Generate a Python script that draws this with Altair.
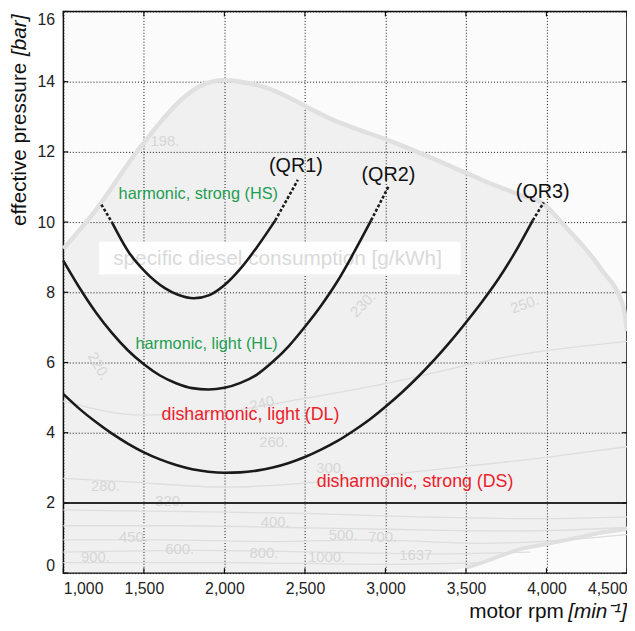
import altair as alt
import pandas as pd

FONT = "Liberation Sans"

# ---------------- data ----------------
x_ticks = [1000, 1500, 2000, 2500, 3000, 3500, 4000, 4500]
y_ticks = [0, 2, 4, 6, 8, 10, 12, 14, 16]

# Quality-regime curves (rpm, bar); solid part between indices given
qr1_rpm = [1236, 1301, 1405, 1507, 1630, 1712, 1810, 1907, 1999, 2101, 2204, 2316, 2456]
qr1_p = [10.5, 10.0, 9.15, 8.59, 8.12, 7.93, 7.83, 7.92, 8.2, 8.68, 9.3, 10.05, 11.2]
qr1_solid = (1, 11)

qr2_rpm = [1000, 1100, 1200, 1300, 1400, 1500, 1600, 1700, 1800, 1900, 2000, 2100,
           2200, 2300, 2400, 2500, 2600, 2700, 2800, 2911, 3023]
qr2_p = [8.9, 8.13, 7.44, 6.85, 6.35, 5.95, 5.63, 5.41, 5.27, 5.23, 5.28, 5.42,
         5.65, 6.02, 6.47, 7.02, 7.62, 8.3, 9.1, 10.05, 11.05]
qr2_solid = (0, 19)

qr3_rpm = [1000, 1100, 1200, 1300, 1400, 1500, 1600, 1700, 1800, 1900, 2000, 2100,
           2200, 2300, 2400, 2500, 2600, 2700, 2800, 2900, 3000, 3100, 3200, 3300,
           3400, 3500, 3600, 3700, 3800, 3915, 3983]
qr3_p = [5.1, 4.68, 4.31, 3.98, 3.69, 3.44, 3.24, 3.08, 2.96, 2.89, 2.86, 2.87,
         2.92, 3.01, 3.14, 3.31, 3.52, 3.76, 4.05, 4.37, 4.74, 5.14, 5.58, 6.06,
         6.58, 7.14, 7.73, 8.37, 9.1, 10.05, 10.56]
qr3_solid = (0, 29)

ds_limit = 2.0  # horizontal boundary (bar)

# annotation labels
lab_text = ["(QR1)", "(QR2)", "(QR3)", "harmonic, strong (HS)", "harmonic, light (HL)",
            "disharmonic, light (DL)", "disharmonic, strong (DS)"]
lab_rpm = [2444, 3018, 3977, 1838, 1889, 2162, 3184]
lab_p = [11.6, 11.33, 10.85, 10.8, 6.54, 4.5, 2.6]
lab_col = ["#111111", "#111111", "#111111", "#1e9e50", "#1e9e50", "#ec1c2a", "#ec1c2a"]
lab_size = [20, 20, 20, 16.5, 16.5, 18, 18]

# faded background map (specific diesel consumption)
map_rpm = [1000, 1177, 1484, 1753, 1850, 1999, 2204, 2696, 3064, 3300, 3495, 3600,
           3850, 3967, 4129, 4336, 4479, 4500]
map_top = [9.24, 10.2, 12.17, 13.57, 13.88, 14.04, 13.9, 12.87, 12.25, 11.8, 11.41, 11.2,
           10.75, 10.56, 9.81, 8.68, 7.56, 6.9]
map_bottom = [0, 0, 0, 0, 0, 0, 0, 0, 0, 0, 0.15, 0.3, 0.7, 0.8, 0.95, 1.15, 1.25, 1.27]

ctr_text = ["198.", "220.", "230.", "250.", "240.", "260.", "280.", "300.", "320.", "400.",
            "450.", "500.", "600.", "700.", "800.", "900.", "1000.", "1637"]
ctr_rpm = [1630, 1220, 2860, 3864, 2246, 2306, 1261, 2660, 1660, 2316, 1435, 2737, 1722,
           2983, 2245, 1199, 2634, 3188]
ctr_p = [12.3, 5.9, 7.66, 7.66, 4.85, 3.72, 2.49, 3.0, 2.06, 1.46, 1.03, 1.08, 0.70,
         1.03, 0.56, 0.47, 0.47, 0.52]
ctr_angle = [0, 60, 315, 340, 345, 0, 0, 0, 0, 0, 0, 0, 0, 0, 0, 0, 0, 0]

iso_lines = {
    "a": ([1000, 1500, 2000, 2400, 3000, 3800, 4500], [4.9, 4.5, 4.6, 4.9, 5.4, 6.2, 6.6]),
    "b": ([1000, 1400, 2000, 2600, 3200, 4000, 4500], [2.7, 2.6, 2.45, 2.6, 2.9, 3.3, 3.6]),
    "c": ([1000, 1800, 2500, 3200, 4000, 4500], [1.8, 1.75, 1.7, 1.6, 1.55, 1.6]),
    "d": ([1000, 1700, 2400, 3000, 3800, 4500], [1.35, 1.35, 1.3, 1.25, 1.2, 1.3]),
    "e": ([1000, 1600, 2300, 2900, 3600, 4500], [0.95, 0.95, 0.9, 0.95, 0.85, 1.1]),
    "f": ([1000, 1800, 2600, 3300, 3900], [0.6, 0.65, 0.6, 0.55, 0.6]),
    "g": ([1000, 2000, 3000, 3600], [0.3, 0.3, 0.25, 0.3]),
}

map_title = "specific diesel consumption [g/kWh]"
map_title_pos = (2330, 8.96)
map_box = (1220, 3466, 8.51, 9.44)

# ---------------- tables ----------------
rows = []
for name, rpm, p, (i0, i1) in [("QR1", qr1_rpm, qr1_p, qr1_solid),
                               ("QR2", qr2_rpm, qr2_p, qr2_solid),
                               ("QR3", qr3_rpm, qr3_p, qr3_solid)]:
    for i in range(i0, i1 + 1):
        rows.append({"seg": name + "s", "kind": "solid", "rpm": rpm[i], "p": p[i]})
    if i0 > 0:
        for i in range(0, i0 + 1):
            rows.append({"seg": name + "a", "kind": "dot", "rpm": rpm[i], "p": p[i]})
    if i1 < len(rpm) - 1:
        for i in range(i1, len(rpm)):
            rows.append({"seg": name + "b", "kind": "dot", "rpm": rpm[i], "p": p[i]})
curves = pd.DataFrame(rows)

labels = pd.DataFrame({"t": lab_text, "rpm": lab_rpm, "p": lab_p, "c": lab_col, "s": lab_size})
mapdf = pd.DataFrame({"rpm": map_rpm, "top": map_top, "bot": map_bottom})
ctr = pd.DataFrame({"t": ctr_text, "rpm": ctr_rpm, "p": ctr_p, "a": ctr_angle})
iso = pd.DataFrame([{"k": k, "rpm": r, "p": v} for k, (rr, vv) in iso_lines.items()
                    for r, v in zip(rr, vv)])

W, H = 570, 568
xs = alt.Scale(domain=[1000, 4500], nice=False, zero=False)
ys = alt.Scale(domain=[0, 16], nice=False)

x_axis = alt.Axis(values=x_ticks, labelExpr="format(datum.value, ',')", grid=True,
                  gridDash=[1, 2], gridColor="#111111", gridWidth=1, ticks=False,
                  domain=False, labelFontSize=16, labelFont=FONT, labelColor="#222222",
                  labelPadding=8, labelFlush=True, title=None)
y_axis = alt.Axis(values=y_ticks, labelExpr="format(datum.value, 'd')", grid=True,
                  gridDash=[1, 2], gridColor="#111111", gridWidth=1, ticks=False,
                  domain=False, labelFontSize=16, labelFont=FONT, labelColor="#222222",
                  labelPadding=9, labelFlush=True, title=None)


def X(f="rpm"):
    return alt.X(f"{f}:Q", scale=xs, axis=x_axis, title=None)


def Y(f="p"):
    return alt.Y(f"{f}:Q", scale=ys, axis=y_axis, title=None)


bg = alt.Chart(mapdf).mark_area(color="#000000", opacity=0.045, interpolate="monotone").encode(
    x=X(), y=Y("top"), y2="bot:Q")
outline_top = alt.Chart(mapdf).mark_line(color="#e0e0e0", strokeWidth=4.5,
                                         interpolate="monotone").encode(x=X(), y=Y("top"))
outline_bot = alt.Chart(mapdf[mapdf["bot"] > 0]).mark_line(
    color="#e0e0e0", strokeWidth=4, interpolate="monotone").encode(x=X(), y=Y("bot"))
iso_l = alt.Chart(iso).mark_line(color="#dedede", strokeWidth=1.3, interpolate="monotone").encode(
    x=X(), y=Y(), detail="k:N")
ctr_t = alt.Chart(ctr).mark_text(font=FONT, fontSize=15, color="#d6d6d6").encode(
    x=X(), y=Y(), text="t:N", angle=alt.Angle("a:Q", scale=None))

box = alt.Chart(pd.DataFrame({"x1": [map_box[0]], "x2": [map_box[1]],
                              "y1": [map_box[2]], "y2": [map_box[3]]})).mark_rect(
    color="#ffffff", opacity=0.92).encode(x=X("x1"), x2="x2:Q", y=Y("y1"), y2="y2:Q")
box_t = alt.Chart(pd.DataFrame({"t": [map_title], "rpm": [map_title_pos[0]],
                                "p": [map_title_pos[1]]})).mark_text(
    font=FONT, fontSize=21, color="#dadada").encode(x=X(), y=Y(), text="t:N")

ds_rule = alt.Chart(pd.DataFrame({"p": [ds_limit]})).mark_rule(
    color="#2a2a2a", strokeWidth=2).encode(y=Y())

solid = alt.Chart(curves[curves["kind"] == "solid"]).mark_line(
    color="#1a1a1a", strokeWidth=2.6, interpolate="monotone").encode(
    x=X(), y=Y(), detail="seg:N", order="rpm:Q")
dotted = alt.Chart(curves[curves["kind"] == "dot"]).mark_line(
    color="#1a1a1a", strokeWidth=2.6, strokeDash=[3, 2]).encode(
    x=X(), y=Y(), detail="seg:N", order="rpm:Q")

lab = alt.Chart(labels).mark_text(font=FONT).encode(
    x=X(), y=Y(), text="t:N", color=alt.Color("c:N", scale=None),
    size=alt.Size("s:Q", scale=None))

# inward ticks on all four sides
xt = pd.DataFrame({"v": x_ticks})
yt = pd.DataFrame({"v": y_ticks})
tick_b = alt.Chart(xt).mark_rule(color="#111111", strokeWidth=1.2).encode(
    x=X("v"), y=alt.value(H), y2=alt.value(H - 5))
tick_t = alt.Chart(xt).mark_rule(color="#111111", strokeWidth=1.2).encode(
    x=X("v"), y=alt.value(0), y2=alt.value(5))
tick_l = alt.Chart(yt).mark_rule(color="#111111", strokeWidth=1.2).encode(
    y=Y("v"), x=alt.value(0), x2=alt.value(5))
tick_r = alt.Chart(yt).mark_rule(color="#111111", strokeWidth=1.2).encode(
    y=Y("v"), x=alt.value(W), x2=alt.value(W - 5))

# axis titles (mixed upright / italic)
one = pd.DataFrame({"t": [""]})
yt1 = alt.Chart(one).mark_text(text="effective pressure", font=FONT, fontSize=21,
                               color="#111111", angle=270, align="left",
                               baseline="middle").encode(x=alt.value(-44), y=alt.value(217))
yt2 = alt.Chart(one).mark_text(text="[bar]", font=FONT, fontSize=21, fontStyle="italic",
                               color="#111111", angle=270, align="left",
                               baseline="middle").encode(x=alt.value(-44), y=alt.value(45))
xt1 = alt.Chart(one).mark_text(text="motor rpm", font=FONT, fontSize=21, color="#111111",
                               align="right", baseline="middle").encode(
    x=alt.value(506), y=alt.value(607))
xt2 = alt.Chart(one).mark_text(text="[min\u207b\u00b9]", font=FONT, fontSize=21,
                               fontStyle="italic", color="#111111", align="right",
                               baseline="middle").encode(x=alt.value(570), y=alt.value(607))

chart = alt.layer(
    bg, outline_top, outline_bot, iso_l, ctr_t, box, box_t, ds_rule, solid, dotted, lab,
    tick_b, tick_t, tick_l, tick_r, yt1, yt2, xt1, xt2,
).properties(
    width=W, height=H,
    autosize=alt.AutoSizeParams(type="none"),
    padding={"left": 56, "top": 0, "right": 0, "bottom": 55},
).configure_view(
    stroke="#111111", strokeWidth=1.5, fill="#fbfbfb"
)

chart.save("out.html", embed_options={"renderer": "svg", "actions": False})
